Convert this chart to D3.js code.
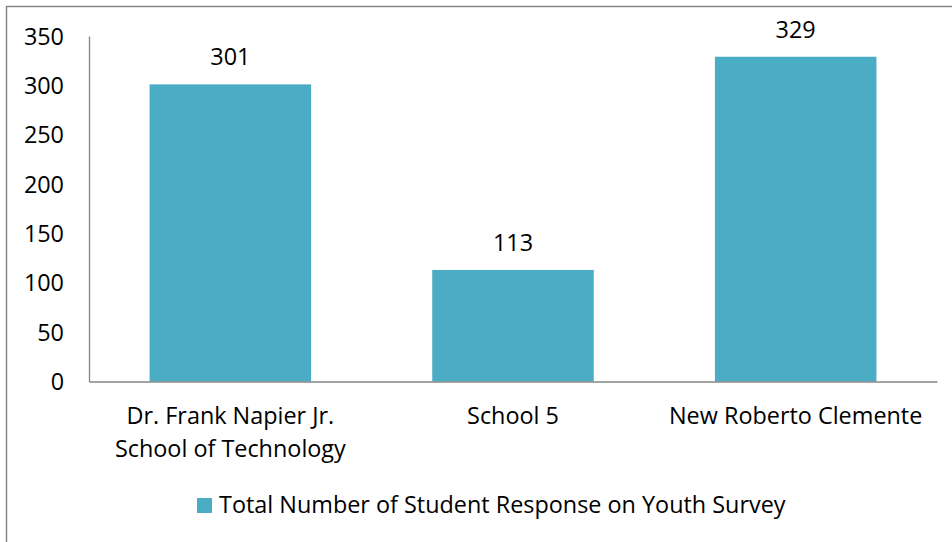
<!DOCTYPE html>
<html>
<head>
<meta charset="utf-8">
<script src="https://d3js.org/d3.v7.min.js"></script>
<style>
  body { margin: 0; background: #fff; }
  text { font-family: "Open Sans", Lato, sans-serif; fill: #000; }
</style>
</head>
<body>
<div id="chart"></div>
<script>
var categories = ["Dr. Frank Napier Jr. School of Technology", "School 5", "New Roberto Clemente"];
var categoryLines = [["Dr. Frank Napier Jr.", "School of Technology"], ["School 5"], ["New Roberto Clemente"]];
var responses = [301, 113, 329];
var yTicks = [0, 50, 100, 150, 200, 250, 300, 350];
var seriesName = "Total Number of Student Response on Youth Survey";

var svgWidth = 952;
var svgHeight = 542;

var margin = { top: 36, right: 15, bottom: 160.5, left: 89 };
var chartWidth = svgWidth - margin.left - margin.right;
var chartHeight = svgHeight - margin.top - margin.bottom;

var barColor = "#4BACC6";
var axisColor = "#868686";
var fontFamily = "'Open Sans', Lato, sans-serif";
var fontSize = 23.4;

var svg = d3.select("#chart")
  .append("svg")
  .attr("width", svgWidth)
  .attr("height", svgHeight);

// outer frame (right and bottom edges fall outside the picture)
svg.append("rect")
  .attr("x", 6.5)
  .attr("y", 6.5)
  .attr("width", svgWidth)
  .attr("height", svgHeight)
  .attr("fill", "#fff")
  .attr("stroke", axisColor)
  .attr("stroke-width", 1.5);

var chartGroup = svg.append("g")
  .attr("transform", `translate(${margin.left}, ${margin.top})`);

var xBandScale = d3.scaleBand()
  .domain(categories)
  .range([0, chartWidth])
  .paddingInner(0.75 / 1.75)
  .paddingOuter(0.75 / 1.75 / 2);

var yLinearScale = d3.scaleLinear()
  .domain([0, 350])
  .range([chartHeight, 0]);

// y axis
var leftAxis = d3.axisLeft(yLinearScale)
  .tickValues(yTicks)
  .tickSize(0)
  .tickPadding(25);

var yAxisGroup = chartGroup.append("g").call(leftAxis);
yAxisGroup.select(".domain").attr("stroke", axisColor).attr("stroke-width", 1.3);
yAxisGroup.selectAll(".tick text")
  .attr("font-size", fontSize)
  .attr("font-family", fontFamily)
  .attr("fill", "#000")
  .attr("dy", "0.35em");

// bars
chartGroup.append("g")
  .selectAll("rect")
  .data(responses)
  .enter()
  .append("rect")
  .attr("x", (d, i) => xBandScale(categories[i]))
  .attr("y", d => yLinearScale(d))
  .attr("width", xBandScale.bandwidth())
  .attr("height", d => chartHeight - yLinearScale(d))
  .attr("fill", barColor);

// data labels
chartGroup.append("g")
  .selectAll("text")
  .data(responses)
  .enter()
  .append("text")
  .attr("x", (d, i) => xBandScale(categories[i]) + xBandScale.bandwidth() / 2)
  .attr("y", d => yLinearScale(d) - 19)
  .attr("text-anchor", "middle")
  .attr("font-size", fontSize)
  .text(d => d);

// x axis
var bottomAxis = d3.axisBottom(xBandScale)
  .tickSize(0)
  .tickFormat("");

var xAxisGroup = chartGroup.append("g")
  .attr("transform", `translate(0, ${chartHeight})`)
  .call(bottomAxis);
xAxisGroup.select(".domain").attr("stroke", axisColor).attr("stroke-width", 1.6);

// category labels, one tspan per line
var catLabels = chartGroup.append("g")
  .selectAll("text")
  .data(categories)
  .enter()
  .append("text")
  .attr("text-anchor", "middle")
  .attr("font-size", fontSize)
  .attr("transform", d => `translate(${xBandScale(d) + xBandScale.bandwidth() / 2}, ${chartHeight + 42})`);

catLabels.each(function(d, i) {
  var t = d3.select(this);
  categoryLines[i].forEach(function(line, j) {
    t.append("tspan")
      .attr("x", 0)
      .attr("y", j * 33)
      .text(line);
  });
});

// legend
var legend = svg.append("g")
  .attr("transform", "translate(197, 498)");

legend.append("rect")
  .attr("width", 15)
  .attr("height", 15)
  .attr("fill", barColor);

legend.append("text")
  .attr("x", 22)
  .attr("y", 15)
  .attr("font-size", fontSize)
  .text(seriesName);
</script>
</body>
</html>
